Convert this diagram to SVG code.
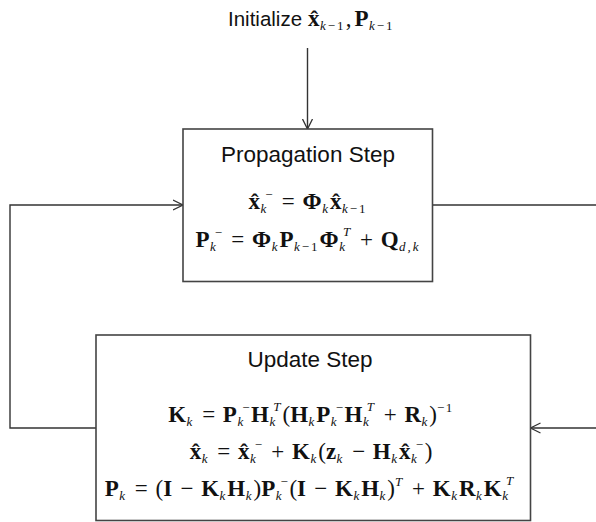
<svg xmlns="http://www.w3.org/2000/svg" width="596" height="522" viewBox="0 0 596 522">
<defs>
<marker id="arr" markerWidth="12" markerHeight="12" refX="10" refY="5" orient="auto" markerUnits="userSpaceOnUse" viewBox="0 0 12 10">
<path d="M0,0 L10,5 L0,10" fill="none" stroke="#333" stroke-width="1.3"/>
</marker>
<style>
.box{fill:#fff;stroke:#444;stroke-width:1.6}
.ln{fill:none;stroke:#333;stroke-width:1.4}
.lbl{font-family:"Liberation Sans",Arial,sans-serif;font-size:22.5px;fill:#111}
.m{font-family:"Liberation Serif","Times New Roman",serif;font-size:23px;fill:#111;word-spacing:2px}
.b{font-weight:bold;letter-spacing:0.5px}
.s{font-size:13px;font-style:italic;letter-spacing:2px}
.r{font-style:normal}
.p{font-size:13px;letter-spacing:1.5px}
</style>
</defs>
<rect width="596" height="522" fill="#fff"/>
<g id="connectors">
<path class="ln" d="M307.5,48 V129" marker-end="url(#arr)"/>
<path class="ln" d="M96,428 H10 V205 H183" marker-end="url(#arr)"/>
<path class="ln" d="M432.5,205 H596"/>
<path class="ln" d="M596,428 H530.5" marker-end="url(#arr)"/>
</g>
<g id="init">
<text class="lbl" x="228" y="26" style="font-size:20.5px">Initialize</text>
<text class="m" x="308" y="26"><tspan class="b">x̂</tspan><tspan class="s" dy="4">k<tspan class="r">−1</tspan></tspan><tspan dy="-4">,</tspan><tspan class="b" dx="3">P</tspan><tspan class="s" dy="4">k<tspan class="r">−1</tspan></tspan></text>
</g>
<g id="propagation">
<rect class="box" x="183" y="129" width="249.5" height="152.5"/>
<text class="lbl" x="308" y="162" text-anchor="middle">Propagation Step</text>
<text class="m" x="308" y="209" text-anchor="middle"><tspan class="b">x̂</tspan><tspan class="s" dy="4">k</tspan><tspan class="p" dx="-3" dy="-14">−</tspan><tspan dy="10"> = </tspan><tspan class="b">Φ</tspan><tspan class="s" dy="4">k</tspan><tspan class="b" dy="-4">x̂</tspan><tspan class="s" dy="4">k<tspan class="r">−1</tspan></tspan></text>
<text class="m" x="308" y="247" text-anchor="middle"><tspan class="b">P</tspan><tspan class="s" dy="4">k</tspan><tspan class="p" dx="-3" dy="-14">−</tspan><tspan dy="10"> = </tspan><tspan class="b">Φ</tspan><tspan class="s" dy="4">k</tspan><tspan class="b" dy="-4">P</tspan><tspan class="s" dy="4">k<tspan class="r">−1</tspan></tspan><tspan class="b" dy="-4">Φ</tspan><tspan class="s" dy="4">k</tspan><tspan class="s" dx="-4" dy="-15">T</tspan><tspan dy="11"> + </tspan><tspan class="b">Q</tspan><tspan class="s" dy="4">d,k</tspan></text>
</g>
<g id="update">
<rect class="box" x="96" y="335" width="434.5" height="185.5"/>
<text class="lbl" x="310" y="367" text-anchor="middle">Update Step</text>
<text class="m" x="311" y="422" text-anchor="middle"><tspan class="b">K</tspan><tspan class="s" dy="4">k</tspan><tspan dy="-4"> = </tspan><tspan class="b">P</tspan><tspan class="s" dy="4">k</tspan><tspan class="p" dx="-3" dy="-14">−</tspan><tspan class="b" dy="10">H</tspan><tspan class="s" dy="4">k</tspan><tspan class="s" dx="-4" dy="-15">T</tspan><tspan dy="11">(</tspan><tspan class="b">H</tspan><tspan class="s" dy="4">k</tspan><tspan class="b" dy="-4">P</tspan><tspan class="s" dy="4">k</tspan><tspan class="p" dx="-3" dy="-14">−</tspan><tspan class="b" dy="10">H</tspan><tspan class="s" dy="4">k</tspan><tspan class="s" dx="-4" dy="-15">T</tspan><tspan dy="11"> + </tspan><tspan class="b">R</tspan><tspan class="s" dy="4">k</tspan><tspan dy="-4">)</tspan><tspan class="p" dy="-10">−1</tspan></text>
<text class="m" x="311" y="459" text-anchor="middle"><tspan class="b">x̂</tspan><tspan class="s" dy="4">k</tspan><tspan dy="-4"> = </tspan><tspan class="b">x̂</tspan><tspan class="s" dy="4">k</tspan><tspan class="p" dx="-3" dy="-14">−</tspan><tspan dy="10"> + </tspan><tspan class="b">K</tspan><tspan class="s" dy="4">k</tspan><tspan dy="-4">(</tspan><tspan class="b">z</tspan><tspan class="s" dy="4">k</tspan><tspan dy="-4"> − </tspan><tspan class="b">H</tspan><tspan class="s" dy="4">k</tspan><tspan class="b" dy="-4">x̂</tspan><tspan class="s" dy="4">k</tspan><tspan class="p" dx="-3" dy="-14">−</tspan><tspan dy="10">)</tspan></text>
<text class="m" x="310" y="496" text-anchor="middle"><tspan class="b">P</tspan><tspan class="s" dy="4">k</tspan><tspan dy="-4"> = (</tspan><tspan class="b">I</tspan><tspan> − </tspan><tspan class="b">K</tspan><tspan class="s" dy="4">k</tspan><tspan class="b" dy="-4">H</tspan><tspan class="s" dy="4">k</tspan><tspan dy="-4">)</tspan><tspan class="b">P</tspan><tspan class="s" dy="4">k</tspan><tspan class="p" dx="-3" dy="-14">−</tspan><tspan dy="10">(</tspan><tspan class="b">I</tspan><tspan> − </tspan><tspan class="b">K</tspan><tspan class="s" dy="4">k</tspan><tspan class="b" dy="-4">H</tspan><tspan class="s" dy="4">k</tspan><tspan dy="-4">)</tspan><tspan class="s" dy="-10">T</tspan><tspan dy="10"> + </tspan><tspan class="b">K</tspan><tspan class="s" dy="4">k</tspan><tspan class="b" dy="-4">R</tspan><tspan class="s" dy="4">k</tspan><tspan class="b" dy="-4">K</tspan><tspan class="s" dy="4">k</tspan><tspan class="s" dx="-4" dy="-15">T</tspan></text>
</g>
</svg>
